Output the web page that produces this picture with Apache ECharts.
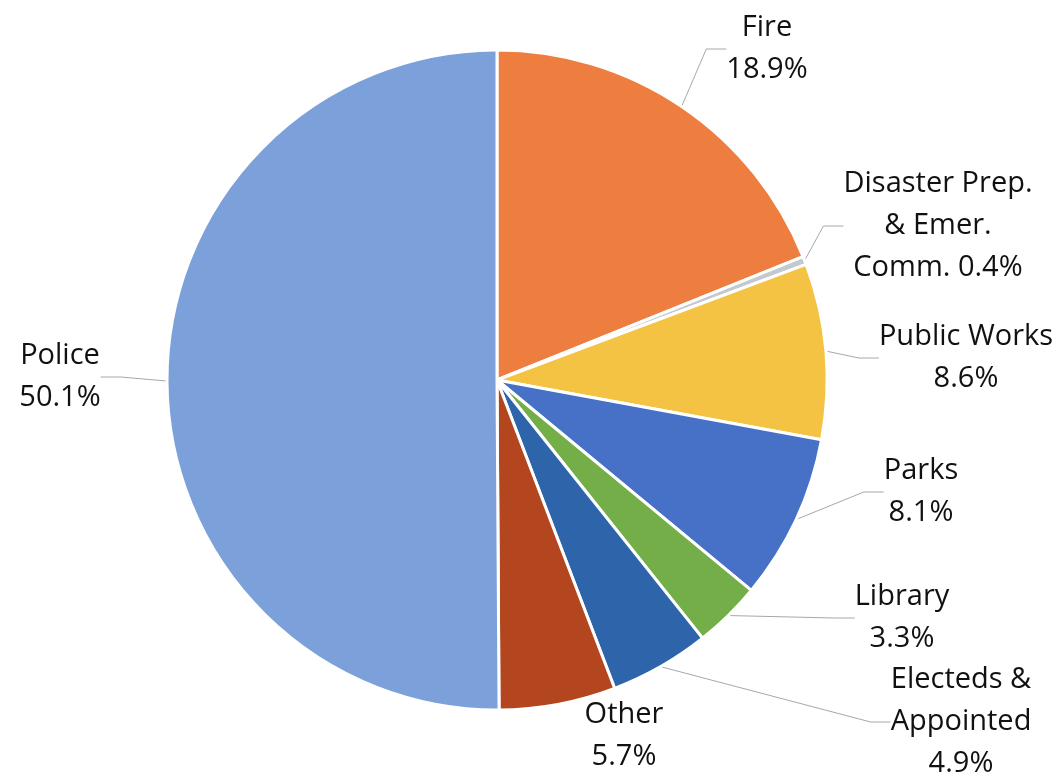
<!DOCTYPE html>
<html>
<head>
<meta charset="utf-8">
<script src="https://cdn.jsdelivr.net/npm/echarts@6/dist/echarts.min.js"></script>
<style>
html,body{margin:0;padding:0;background:#fff;}
#chart{width:1063px;height:778px;}
</style>
</head>
<body>
<div id="chart"></div>
<script>
const categories = ['Fire', 'Disaster Prep. & Emer. Comm.', 'Public Works', 'Parks', 'Library', 'Electeds & Appointed', 'Other', 'Police'];
const values = [18.9, 0.4, 8.6, 8.1, 3.3, 4.9, 5.7, 50.1];
const labelTexts = ['Fire\n18.9%', 'Disaster Prep.\n& Emer.\nComm. 0.4%', 'Public Works\n8.6%', 'Parks\n8.1%', 'Library\n3.3%', 'Electeds &\nAppointed\n4.9%', 'Other\n5.7%', 'Police\n50.1%'];
const colors = ['#EE7D40', '#C4C8D0', '#F5C343', '#4771C6', '#73AE48', '#2E65AA', '#B4461F', '#7BA0DA'];
// label anchor positions (center of text block)
const labelPos = [[767, 49], [938, 226], [966, 358], [921, 492], [902, 618], [961, 722], [624, 736], [60, 377]];

const chart = echarts.init(document.getElementById('chart'), null, {renderer: 'canvas'});
chart.setOption({
  animation: false,
  backgroundColor: '#fff',
  series: [{
    type: 'pie',
    center: [497, 380],
    radius: [0, 330],
    startAngle: 90,
    clockwise: true,
    data: categories.map((c, i) => ({
      name: c,
      value: values[i],
      itemStyle: {color: colors[i]},
      label: {formatter: labelTexts[i]},
      labelLine: {show: i !== 6}
    })),
    itemStyle: {borderColor: '#fff', borderWidth: 3},
    label: {
      show: true,
      position: 'outside',
      fontFamily: 'Open Sans',
      fontSize: 29,
      lineHeight: 42,
      color: '#111',
      align: 'center'
    },
    labelLine: {
      show: true,
      length: 15,
      length2: 20,
      lineStyle: {color: '#a8a8a8', width: 1}
    },
    labelLayout: function (p) {
      const pos = labelPos[p.dataIndex];
      return {x: pos[0], y: pos[1], align: 'center', verticalAlign: 'middle'};
    }
  }]
});
</script>
</body>
</html>
